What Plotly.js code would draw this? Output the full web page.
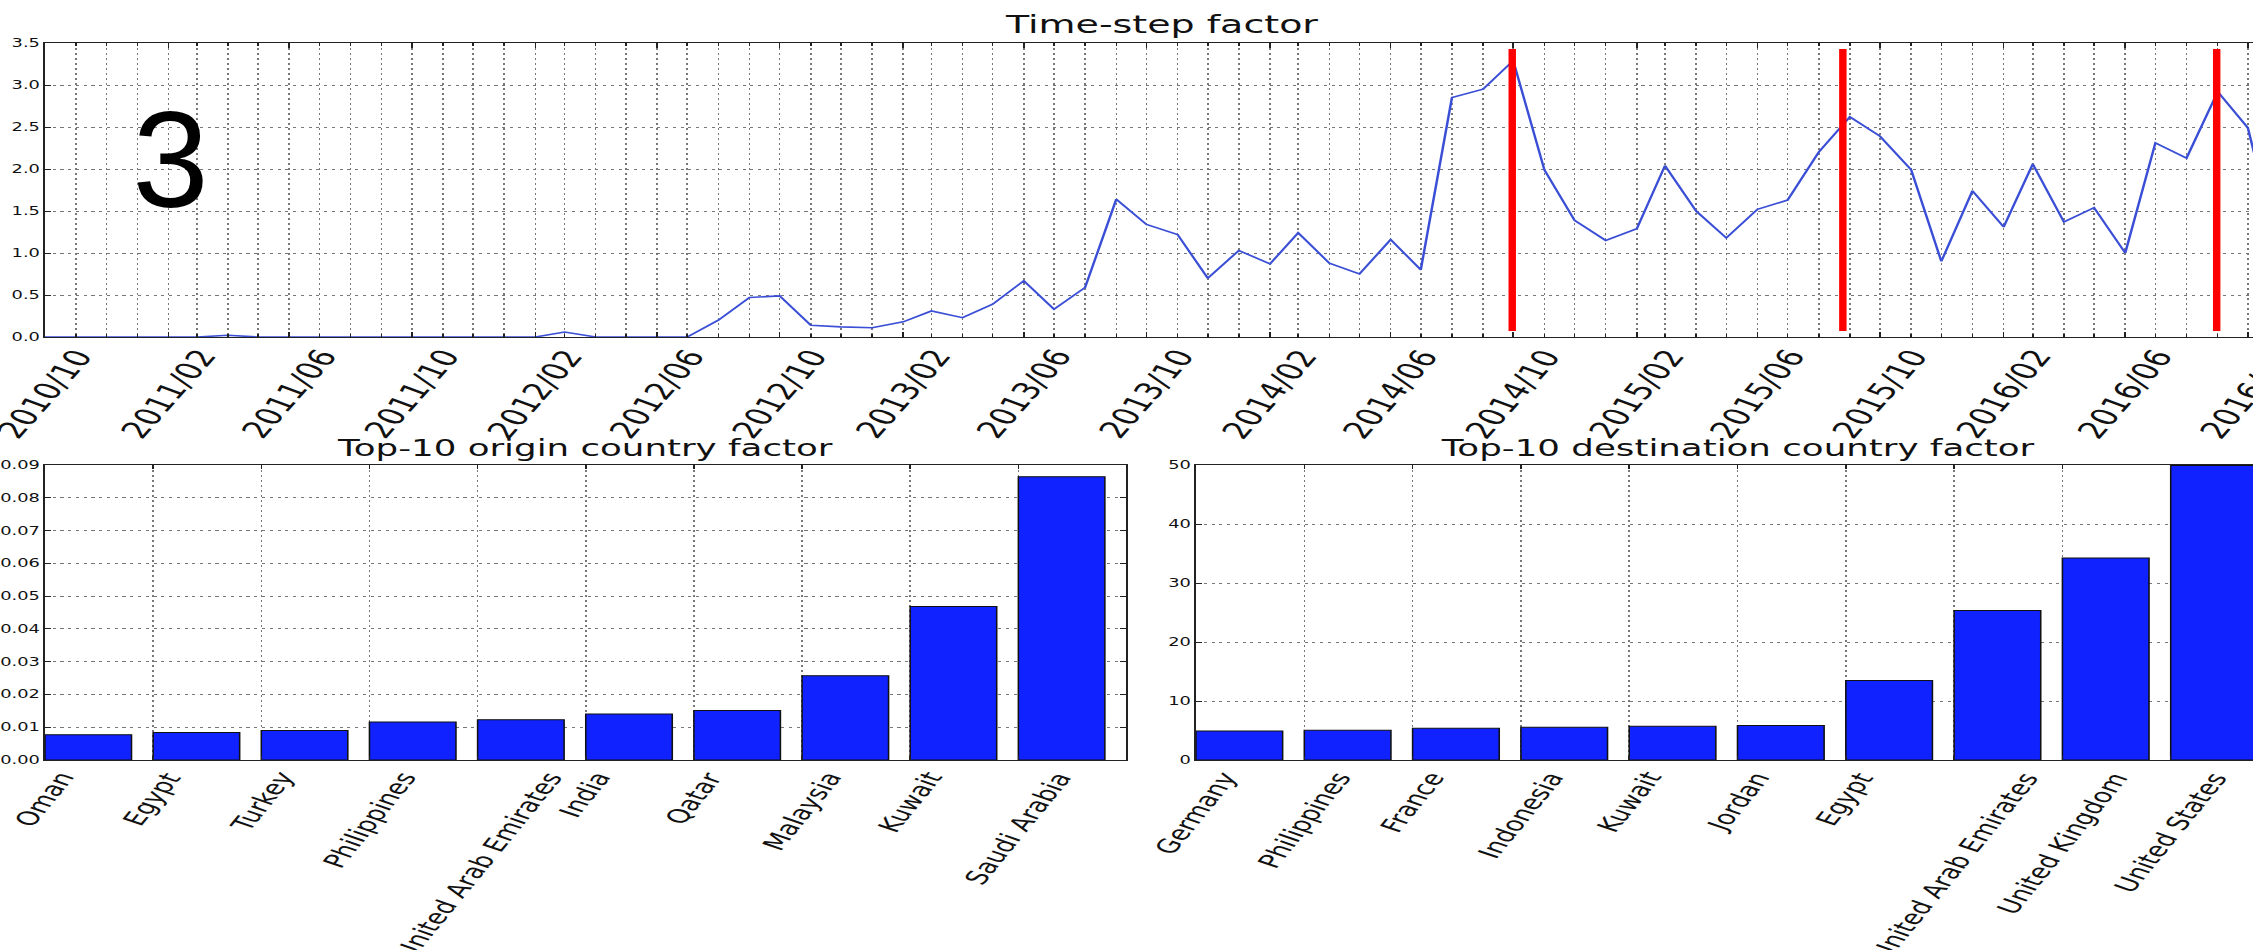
<!DOCTYPE html>
<html>
<head>
<meta charset="utf-8">
<script src="https://cdn.plot.ly/plotly-3.0.1.min.js"></script>
<style>
  html, body { margin: 0; padding: 0; background: #fff; width: 2253px; height: 950px; overflow: hidden; }
  #wrap { position: absolute; left: 0; top: 0; transform-origin: 0 0; }
</style>
</head>
<body>
<div id="wrap"><div id="chart"></div></div>
<script>
// ---- Time-step factor (monthly) ----
const months = [
  '2010-10-01','2010-11-01','2010-12-01',
  '2011-01-01','2011-02-01','2011-03-01','2011-04-01','2011-05-01','2011-06-01',
  '2011-07-01','2011-08-01','2011-09-01','2011-10-01','2011-11-01','2011-12-01',
  '2012-01-01','2012-02-01','2012-03-01','2012-04-01','2012-05-01','2012-06-01',
  '2012-07-01','2012-08-01','2012-09-01','2012-10-01','2012-11-01','2012-12-01',
  '2013-01-01','2013-02-01','2013-03-01','2013-04-01','2013-05-01','2013-06-01',
  '2013-07-01','2013-08-01','2013-09-01','2013-10-01','2013-11-01','2013-12-01',
  '2014-01-01','2014-02-01','2014-03-01','2014-04-01','2014-05-01','2014-06-01',
  '2014-07-01','2014-08-01','2014-09-01','2014-10-01','2014-11-01','2014-12-01',
  '2015-01-01','2015-02-01','2015-03-01','2015-04-01','2015-05-01','2015-06-01',
  '2015-07-01','2015-08-01','2015-09-01','2015-10-01','2015-11-01','2015-12-01',
  '2016-01-01','2016-02-01','2016-03-01','2016-04-01','2016-05-01','2016-06-01',
  '2016-07-01','2016-08-01','2016-09-01','2016-10-01','2016-11-01'
];
const timeFactor = [
  0, 0, 0,
  0, 0, 0, 0.02, 0, 0,
  0, 0, 0, 0, 0, 0,
  0, 0, 0.06, 0, 0, 0,
  0, 0.20, 0.47, 0.49, 0.14, 0.12,
  0.11, 0.18, 0.31, 0.23, 0.39, 0.67,
  0.33, 0.59, 1.64, 1.34, 1.22, 0.70,
  1.03, 0.87, 1.24, 0.88, 0.75, 1.16,
  0.80, 2.85, 2.95, 3.29, 1.99, 1.39,
  1.15, 1.29, 2.04, 1.50, 1.18, 1.52,
  1.63, 2.20, 2.62, 2.39, 1.99, 0.90,
  1.74, 1.31, 2.06, 1.37, 1.54, 1.00,
  2.31, 2.13, 2.92, 2.49, 1.00
];
// dates marked with red vertical bars, and their vertical extent
const eventDates = ['2014-09-30', '2015-08-25', '2016-08-31'];
const eventSpan = [0.07, 3.43];

// date tick labels (every four months)
const dateTicks = [
  '2010-10-01','2011-02-01','2011-06-01','2011-10-01','2012-02-01','2012-06-01',
  '2012-10-01','2013-02-01','2013-06-01','2013-10-01','2014-02-01','2014-06-01',
  '2014-10-01','2015-02-01','2015-06-01','2015-10-01','2016-02-01','2016-06-01','2016-10-01'
];
const dateTickText = [
  '2010/10','2011/02','2011/06','2011/10','2012/02','2012/06',
  '2012/10','2013/02','2013/06','2013/10','2014/02','2014/06',
  '2014/10','2015/02','2015/06','2015/10','2016/02','2016/06','2016/10'
];

// ---- Top-10 origin countries ----
const originCountries = ['Oman','Egypt','Turkey','Philippines','United Arab Emirates',
  'India','Qatar','Malaysia','Kuwait','Saudi Arabia'];
const originFactor = [0.0077, 0.0084, 0.0090, 0.0116, 0.0123, 0.0140, 0.0151, 0.0257, 0.0468, 0.0864];

// ---- Top-10 destination countries ----
const destCountries = ['Germany','Philippines','France','Indonesia','Kuwait','Jordan',
  'Egypt','United Arab Emirates','United Kingdom','United States'];
const destFactor = [4.92, 5.03, 5.37, 5.54, 5.71, 5.83, 13.46, 25.34, 34.22, 49.9];

// ---- geometry ----
const S = 1.55;          // horizontal stretch of the whole figure
const W0 = 1490, H0 = 950;
const fx = px => px / S / W0;     // page x (px) -> paper fraction
const fy = py => 1 - py / H0;     // page y (px) -> paper fraction

const FONT = 'DejaVu Sans';
const gridStyle = { showgrid: true, gridcolor: '#777', gridwidth: 1, griddash: '2px,3px' };
const frame = { showline: true, linecolor: '#222', linewidth: 1, mirror: 'ticks',
  ticks: 'inside', tickcolor: '#222', zeroline: false };

const lineColor = '#3a4fd6';
const barColor = '#0f22ff';

// red event bars built from eventDates
const evX = [], evY = [];
eventDates.forEach(d => { evX.push(d, d, null); evY.push(eventSpan[0], eventSpan[1], null); });

const traces = [
  { type: 'scatter', mode: 'lines', x: months, y: timeFactor, xaxis: 'x', yaxis: 'y',
    line: { color: lineColor, width: 1.6 }, hoverinfo: 'skip' },
  { type: 'scatter', mode: 'lines', x: evX, y: evY, xaxis: 'x', yaxis: 'y',
    line: { color: '#ff0000', width: 4.8 }, connectgaps: false, hoverinfo: 'skip' },
  { type: 'bar', x: originCountries, y: originFactor, xaxis: 'x2', yaxis: 'y2',
    offset: 0, width: 0.8, marker: { color: barColor, line: { color: '#111', width: 1 } } },
  { type: 'bar', x: destCountries, y: destFactor, xaxis: 'x3', yaxis: 'y3',
    offset: 0, width: 0.8, marker: { color: barColor, line: { color: '#111', width: 1 } } }
];

const topDom = { x: [fx(45), fx(2279)], y: [fy(337), fy(43)] };
const blDom = { x: [fx(45), fx(1126.5)], y: [fy(760), fy(465)] };
const brDom = { x: [fx(1196), fx(2279)], y: [fy(760), fy(465)] };

const tickFont = { family: FONT, size: 11.5, color: '#111' };

const annotations = [];
// subplot titles
function title(text, xc, yPage, size) {
  annotations.push({ text, xref: 'paper', yref: 'paper', x: xc, y: fy(yPage),
    xanchor: 'center', yanchor: 'bottom', showarrow: false, borderpad: 0,
    font: { family: FONT, size, color: '#111' } });
}
title('Time-step factor', (topDom.x[0] + topDom.x[1]) / 2, 40, 24.5);
title('Top-10 origin country factor', (blDom.x[0] + blDom.x[1]) / 2, 462, 23);
title('Top-10 destination country factor', (brDom.x[0] + brDom.x[1]) / 2, 462, 23);

// rotated category / date labels, centred under each tick
function rotLabels(xs, texts, xref, yPage, size, angle) {
  xs.forEach((x, i) => annotations.push({
    text: texts[i], x, xref, y: fy(yPage), yref: 'paper', textangle: angle,
    xanchor: 'center', yanchor: 'top', showarrow: false, borderpad: 0,
    font: { family: FONT, size, color: '#111' } }));
}
rotLabels(dateTicks, dateTickText, 'x', 343, 23.5, -60);
rotLabels(originCountries, originCountries, 'x2', 767, 19.5, -62);
rotLabels(destCountries, destCountries, 'x3', 767, 19.5, -62);

// panel number
annotations.push({ text: '3', xref: 'paper', yref: 'paper', x: fx(170), y: fy(160),
  xanchor: 'center', yanchor: 'middle', showarrow: false, borderpad: 0,
  font: { family: 'Liberation Sans', size: 137, color: '#000' } });

const layout = {
  width: W0, height: H0, margin: { l: 0, r: 0, t: 0, b: 0 },
  paper_bgcolor: '#fff', plot_bgcolor: '#fff', showlegend: false,
  font: { family: FONT, color: '#111' },
  bargap: 0,
  xaxis: Object.assign({}, frame, gridStyle, {
    domain: topDom.x, anchor: 'y', type: 'date', range: ['2010-10-01', '2016-11-01'],
    tickmode: 'linear', tick0: '2010-10-01', dtick: 'M4', ticklen: 5, showticklabels: false,
    minor: { tick0: '2010-10-01', dtick: 'M1', ticks: 'inside', ticklen: 3, tickcolor: '#222',
      showgrid: true, gridcolor: '#777', gridwidth: 1, griddash: '2px,3px' } }),
  yaxis: Object.assign({}, frame, gridStyle, {
    domain: topDom.y, anchor: 'x', range: [0, 3.5], dtick: 0.5, tickformat: '.1f',
    ticklen: 4, tickfont: tickFont }),
  xaxis2: Object.assign({}, frame, gridStyle, {
    domain: blDom.x, anchor: 'y2', type: 'category', range: [0, 10],
    ticklen: 4, showticklabels: false }),
  yaxis2: Object.assign({}, frame, gridStyle, {
    domain: blDom.y, anchor: 'x2', range: [0, 0.09], dtick: 0.01, tickformat: '.2f',
    ticklen: 4, tickfont: tickFont }),
  xaxis3: Object.assign({}, frame, gridStyle, {
    domain: brDom.x, anchor: 'y3', type: 'category', range: [0, 10],
    ticklen: 4, showticklabels: false }),
  yaxis3: Object.assign({}, frame, gridStyle, {
    domain: brDom.y, anchor: 'x3', range: [0, 50], dtick: 10,
    ticklen: 4, tickfont: tickFont }),
  annotations
};

document.getElementById('wrap').style.transform = 'scaleX(' + S + ')';

Plotly.newPlot('chart', traces, layout, { staticPlot: true, displayModeBar: false })
  .then(gd => {
    // the panel number keeps its natural proportions
    gd.querySelectorAll('.annotation-text').forEach(t => {
      if (t.textContent === '3') {
        t.style.transformBox = 'fill-box';
        t.style.transformOrigin = 'center';
        t.style.transform = 'scaleX(' + (1 / S) + ')';
      }
    });
  });
</script>
</body>
</html>
